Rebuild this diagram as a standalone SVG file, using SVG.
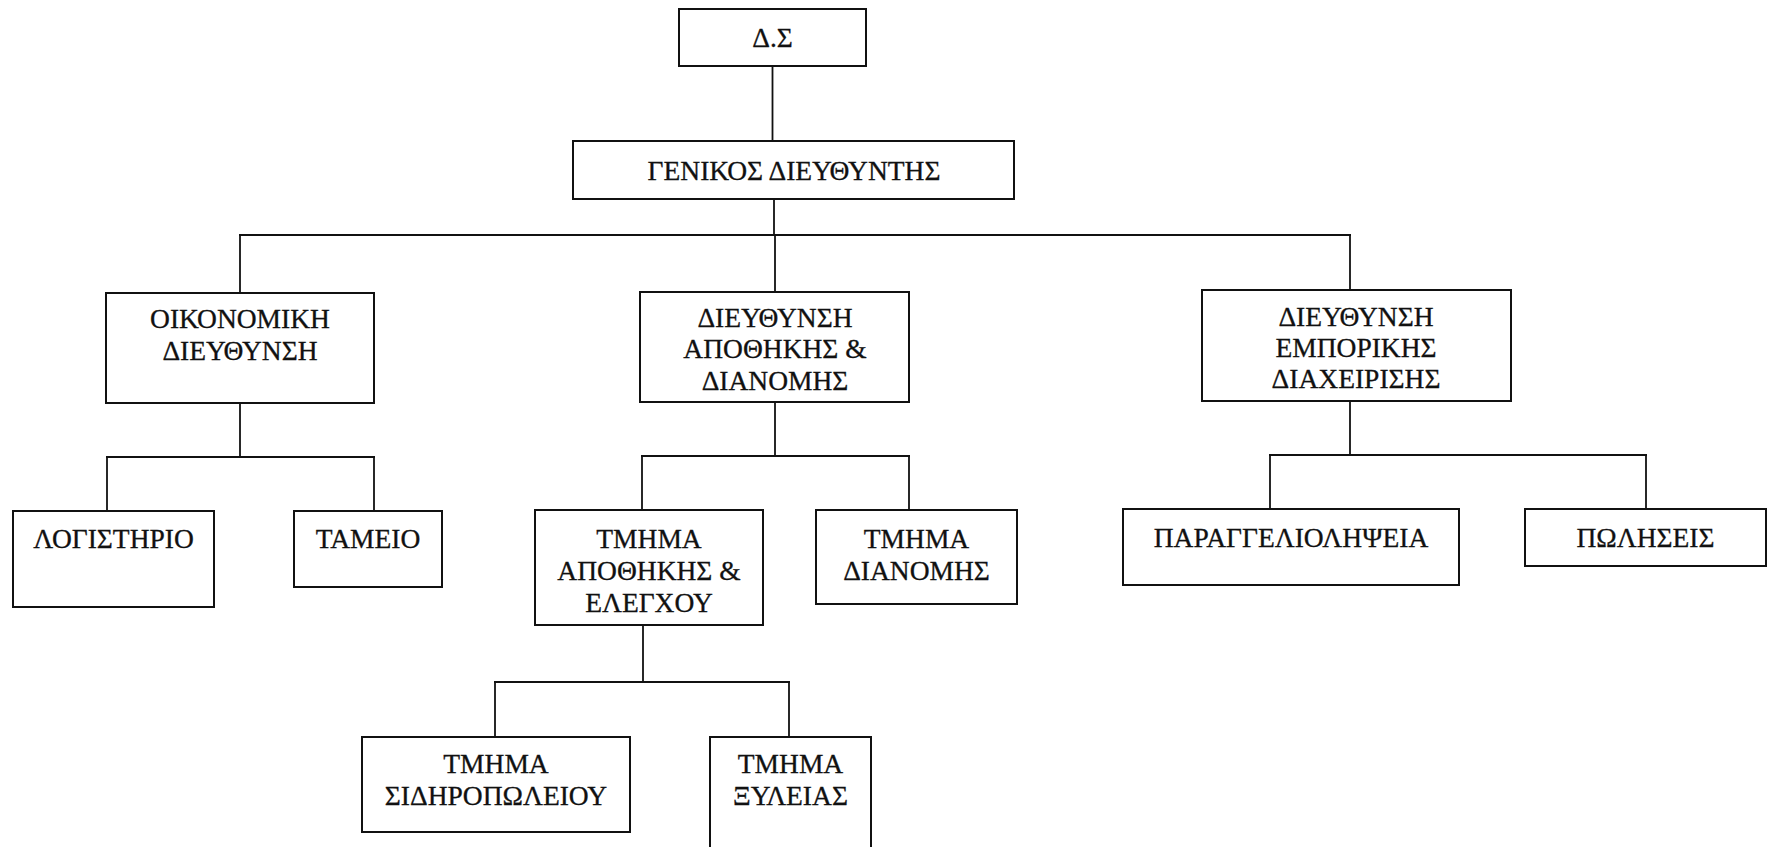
<svg xmlns="http://www.w3.org/2000/svg" width="1771" height="847" viewBox="0 0 1771 847">
<style>
.box{fill:#fff;stroke:#111;stroke-width:2}
.lbl{font-family:"Liberation Serif","Times New Roman",serif;font-size:27.5px;fill:#111;stroke:#111;stroke-width:0.3;text-anchor:middle}
.conn line{stroke:#111;stroke-width:1.8}
</style>
<rect width="1771" height="847" fill="#fff"/>
<g id="connectors" class="conn">
<line x1="772.5" y1="66" x2="772.5" y2="141"/>
<line x1="774" y1="199" x2="774" y2="235"/>
<line x1="239" y1="235" x2="1351" y2="235"/>
<line x1="240" y1="235" x2="240" y2="293"/>
<line x1="775" y1="235" x2="775" y2="292"/>
<line x1="1350" y1="235" x2="1350" y2="290"/>
<line x1="240" y1="403" x2="240" y2="457"/>
<line x1="106" y1="457" x2="375" y2="457"/>
<line x1="107" y1="457" x2="107" y2="511"/>
<line x1="374" y1="457" x2="374" y2="511"/>
<line x1="775" y1="402" x2="775" y2="456"/>
<line x1="641" y1="456" x2="910" y2="456"/>
<line x1="642" y1="456" x2="642" y2="510"/>
<line x1="909" y1="456" x2="909" y2="510"/>
<line x1="643" y1="625" x2="643" y2="682"/>
<line x1="494" y1="682" x2="790" y2="682"/>
<line x1="495" y1="682" x2="495" y2="737"/>
<line x1="789" y1="682" x2="789" y2="737"/>
<line x1="1350" y1="401" x2="1350" y2="455"/>
<line x1="1269" y1="455" x2="1647" y2="455"/>
<line x1="1270" y1="455" x2="1270" y2="509"/>
<line x1="1646" y1="455" x2="1646" y2="509"/>
</g>
<g id="n-ds">
<rect class="box" x="679" y="9" width="187" height="57"/>
<text class="lbl" x="772.5" y="47">Δ.Σ</text>
</g>
<g id="n-genikos">
<rect class="box" x="573" y="141" width="441" height="58"/>
<text class="lbl" x="794" y="180">ΓΕΝΙΚΟΣ ΔΙΕΥΘΥΝΤΗΣ</text>
</g>
<g id="n-oikonomiki">
<rect class="box" x="106" y="293" width="268" height="110"/>
<text class="lbl" x="240" y="328">ΟΙΚΟΝΟΜΙΚΗ</text>
<text class="lbl" x="240" y="360">ΔΙΕΥΘΥΝΣΗ</text>
</g>
<g id="n-apothikis">
<rect class="box" x="640" y="292" width="269" height="110"/>
<text class="lbl" x="775" y="327">ΔΙΕΥΘΥΝΣΗ</text>
<text class="lbl" x="775" y="358">ΑΠΟΘΗΚΗΣ &amp;</text>
<text class="lbl" x="775" y="390">ΔΙΑΝΟΜΗΣ</text>
</g>
<g id="n-emporikis">
<rect class="box" x="1202" y="290" width="309" height="111"/>
<text class="lbl" x="1356" y="326">ΔΙΕΥΘΥΝΣΗ</text>
<text class="lbl" x="1356" y="357">ΕΜΠΟΡΙΚΗΣ</text>
<text class="lbl" x="1356" y="388">ΔΙΑΧΕΙΡΙΣΗΣ</text>
</g>
<g id="n-logistirio">
<rect class="box" x="13" y="511" width="201" height="96"/>
<text class="lbl" x="113.5" y="548">ΛΟΓΙΣΤΗΡΙΟ</text>
</g>
<g id="n-tameio">
<rect class="box" x="294" y="511" width="148" height="76"/>
<text class="lbl" x="368" y="548">ΤΑΜΕΙΟ</text>
</g>
<g id="n-tmima-apothikis">
<rect class="box" x="535" y="510" width="228" height="115"/>
<text class="lbl" x="649" y="548">ΤΜΗΜΑ</text>
<text class="lbl" x="649" y="580">ΑΠΟΘΗΚΗΣ &amp;</text>
<text class="lbl" x="649" y="612">ΕΛΕΓΧΟΥ</text>
</g>
<g id="n-tmima-dianomis">
<rect class="box" x="816" y="510" width="201" height="94"/>
<text class="lbl" x="916.5" y="548">ΤΜΗΜΑ</text>
<text class="lbl" x="916.5" y="580">ΔΙΑΝΟΜΗΣ</text>
</g>
<g id="n-sidiropoleiou">
<rect class="box" x="362" y="737" width="268" height="95"/>
<text class="lbl" x="496" y="773">ΤΜΗΜΑ</text>
<text class="lbl" x="496" y="805">ΣΙΔΗΡΟΠΩΛΕΙΟΥ</text>
</g>
<g id="n-xyleias">
<rect class="box" x="710" y="737" width="161" height="130"/>
<text class="lbl" x="790.5" y="773">ΤΜΗΜΑ</text>
<text class="lbl" x="790.5" y="805">ΞΥΛΕΙΑΣ</text>
</g>
<g id="n-paraggelioliptia">
<rect class="box" x="1123" y="509" width="336" height="76"/>
<text class="lbl" x="1291" y="547">ΠΑΡΑΓΓΕΛΙΟΛΗΨΕΙΑ</text>
</g>
<g id="n-poliseis">
<rect class="box" x="1525" y="509" width="241" height="57"/>
<text class="lbl" x="1645.5" y="547">ΠΩΛΗΣΕΙΣ</text>
</g>
</svg>
